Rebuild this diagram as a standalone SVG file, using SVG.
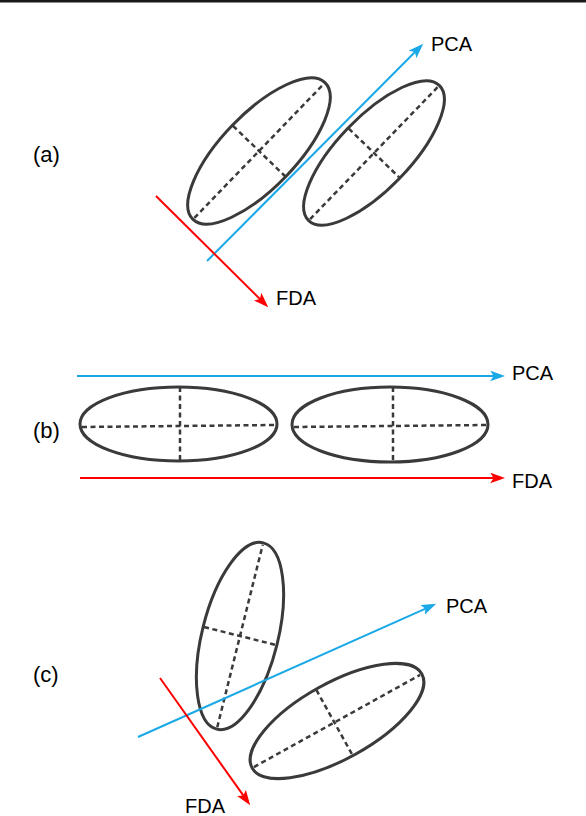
<svg xmlns="http://www.w3.org/2000/svg" width="586" height="816" viewBox="0 0 586 816">
<style>
.ell{fill:none;stroke:#3a3a3a;stroke-width:3}
.ax{stroke:#3a3a3a;stroke-width:2.5;stroke-dasharray:5 3.5;fill:none}
.pca{stroke:#1aa9e6;stroke-width:2;fill:none}
.fda{stroke:#ff0000;stroke-width:2;fill:none}
.lbl{font-family:"Liberation Sans",Arial,sans-serif;font-size:20px;fill:#000}
.plbl{font-family:"Liberation Sans",Arial,sans-serif;font-size:22px;fill:#000}
</style>
<defs>
<marker id="mb" viewBox="0 0 14 10" refX="10" refY="5" markerWidth="15" markerHeight="11" markerUnits="userSpaceOnUse" orient="auto">
<path d="M0,0 L14,5 L0,10 L3,5 Z" fill="#1aa9e6"/>
</marker>
<marker id="mr" viewBox="0 0 14 10" refX="10" refY="5" markerWidth="15" markerHeight="11" markerUnits="userSpaceOnUse" orient="auto">
<path d="M0,0 L14,5 L0,10 L3,5 Z" fill="#ff0000"/>
</marker>
</defs>
<rect x="0" y="0" width="586" height="2.5" fill="#1a1a1a"/>

<g id="panel-a">
<text class="plbl" x="33" y="162">(a)</text>
<g id="a-e1" transform="translate(259,151) rotate(-46)">
<ellipse class="ell" cx="0" cy="0" rx="95" ry="37"/>
<line class="ax" x1="-93" y1="0" x2="93" y2="0"/>
<line class="ax" x1="0" y1="-36" x2="0" y2="36"/>
</g>
<g id="a-e2" transform="translate(374,153) rotate(-46)">
<ellipse class="ell" cx="0" cy="0" rx="94" ry="36"/>
<line class="ax" x1="-92" y1="0" x2="92" y2="0"/>
<line class="ax" x1="0" y1="-35" x2="0" y2="35"/>
</g>
</g>

<g id="panel-b">
<text class="plbl" x="33" y="438">(b)</text>
<g id="b-e1">
<ellipse class="ell" cx="178.5" cy="424" rx="98.5" ry="37"/>
<line class="ax" x1="82" y1="427" x2="275" y2="425"/>
<line class="ax" x1="180" y1="387" x2="180" y2="461"/>
</g>
<g id="b-e2">
<ellipse class="ell" cx="390" cy="424.5" rx="98" ry="37.5"/>
<line class="ax" x1="294" y1="427" x2="486" y2="425"/>
<line class="ax" x1="393" y1="387" x2="393" y2="462"/>
</g>
</g>

<g id="panel-c">
<text class="plbl" x="33" y="682">(c)</text>
<g id="c-e1" transform="translate(240,636) rotate(-76)">
<ellipse class="ell" cx="0" cy="0" rx="96" ry="38"/>
<line class="ax" x1="-94" y1="0" x2="94" y2="0"/>
<line class="ax" x1="0" y1="-37" x2="0" y2="37"/>
</g>
<g id="c-e2" transform="translate(337,721) rotate(-29)">
<ellipse class="ell" cx="0" cy="0" rx="97" ry="38"/>
<line class="ax" x1="-95" y1="0" x2="95" y2="0"/>
<line class="ax" x1="-3" y1="-37" x2="-3" y2="37"/>
</g>
</g>

<g id="connectors">
<line class="pca" x1="207" y1="261" x2="420.2" y2="46.8" marker-end="url(#mb)"/>
<line class="fda" x1="156" y1="196" x2="265.2" y2="304.2" marker-end="url(#mr)"/>
<line class="pca" x1="77" y1="376" x2="501" y2="376" marker-end="url(#mb)"/>
<line class="fda" x1="80" y1="478" x2="501" y2="478" marker-end="url(#mr)"/>
<line class="pca" x1="138" y1="737" x2="432.3" y2="605.6" marker-end="url(#mb)"/>
<line class="fda" x1="160" y1="678" x2="247.7" y2="801.7" marker-end="url(#mr)"/>
</g>

<g id="labels">
<text class="lbl" x="431" y="51">PCA</text>
<text class="lbl" x="276" y="305">FDA</text>
<text class="lbl" x="512" y="380">PCA</text>
<text class="lbl" x="512" y="488">FDA</text>
<text class="lbl" x="446" y="613">PCA</text>
<text class="lbl" x="185" y="813">FDA</text>
</g>
</svg>
